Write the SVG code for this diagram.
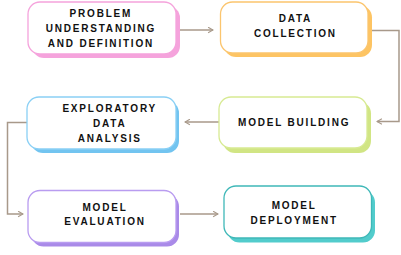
<svg xmlns="http://www.w3.org/2000/svg" width="401" height="255" viewBox="0 0 401 255">
<defs>
<style>
.box{fill:#ffffff;stroke-width:1.3}
.t{font-family:"Liberation Sans",Arial,sans-serif;font-weight:bold;font-size:10px;letter-spacing:1.8px;fill:#111111;text-anchor:middle}
.c{fill:none;stroke:#a8998a;stroke-width:1.5}
</style>
<marker id="ah" viewBox="0 0 10 10" refX="9" refY="5" markerWidth="7" markerHeight="7" orient="auto" markerUnits="userSpaceOnUse">
<path d="M2,1 L9,5 L2,9" fill="none" stroke="#a8998a" stroke-width="1.6"/>
</marker>
</defs>
<rect width="401" height="255" fill="#ffffff"/>
<g id="connectors">
<path class="c" d="M180,30 H213" marker-end="url(#ah)"/>
<path class="c" d="M372,30.5 H399 V121.5 H377" marker-end="url(#ah)"/>
<path class="c" d="M219,122 H185" marker-end="url(#ah)"/>
<path class="c" d="M27,122.5 H7.5 V214 H23" marker-end="url(#ah)"/>
<path class="c" d="M180,214 H218" marker-end="url(#ah)"/>
</g>
<g id="n1">
<rect x="32" y="6" width="148" height="52" rx="12" fill="#f5a3dc"/>
<rect class="box" x="28" y="2" width="148" height="52" rx="12" stroke="#f5a3dc"/>
<text class="t" x="100.9" y="16.7">PROBLEM</text>
<text class="t" x="100.9" y="32">UNDERSTANDING</text>
<text class="t" x="100.9" y="47.2">AND DEFINITION</text>
</g>
<g id="n2">
<rect x="224" y="5.5" width="148" height="51.5" rx="12" fill="#fdc463"/>
<rect class="box" x="220.5" y="2" width="147.5" height="51" rx="12" stroke="#fbc56e"/>
<text class="t" x="295.4" y="22.3">DATA</text>
<text class="t" x="295.4" y="37.3">COLLECTION</text>
</g>
<g id="n3">
<rect x="31" y="101" width="148" height="52" rx="12" fill="#72c4f0"/>
<rect class="box" x="27" y="97" width="149" height="52" rx="12" stroke="#8ad0f5"/>
<text class="t" x="109.7" y="111.7">EXPLORATORY</text>
<text class="t" x="109.7" y="126.7">DATA</text>
<text class="t" x="109.7" y="141.7">ANALYSIS</text>
</g>
<g id="n4">
<rect x="223" y="101.5" width="148" height="51.5" rx="12" fill="#d1e584"/>
<rect class="box" x="219" y="97" width="148" height="51" rx="12" stroke="#d7ea93"/>
<text class="t" x="294.2" y="125.7">MODEL BUILDING</text>
</g>
<g id="n5">
<rect x="31.5" y="194.5" width="147.5" height="52" rx="12" fill="#a98ae8"/>
<rect class="box" x="28" y="190.5" width="148" height="52" rx="12" stroke="#b99cf0"/>
<text class="t" x="105" y="210.6">MODEL</text>
<text class="t" x="105" y="225.4">EVALUATION</text>
</g>
<g id="n6">
<rect x="227.5" y="190.5" width="147.5" height="52" rx="12" fill="#52cccc"/>
<rect class="box" x="224" y="186" width="147.5" height="52" rx="12" stroke="#3fb8b8"/>
<text class="t" x="294.2" y="209.3">MODEL</text>
<text class="t" x="294.2" y="224.3">DEPLOYMENT</text>
</g>
</svg>
